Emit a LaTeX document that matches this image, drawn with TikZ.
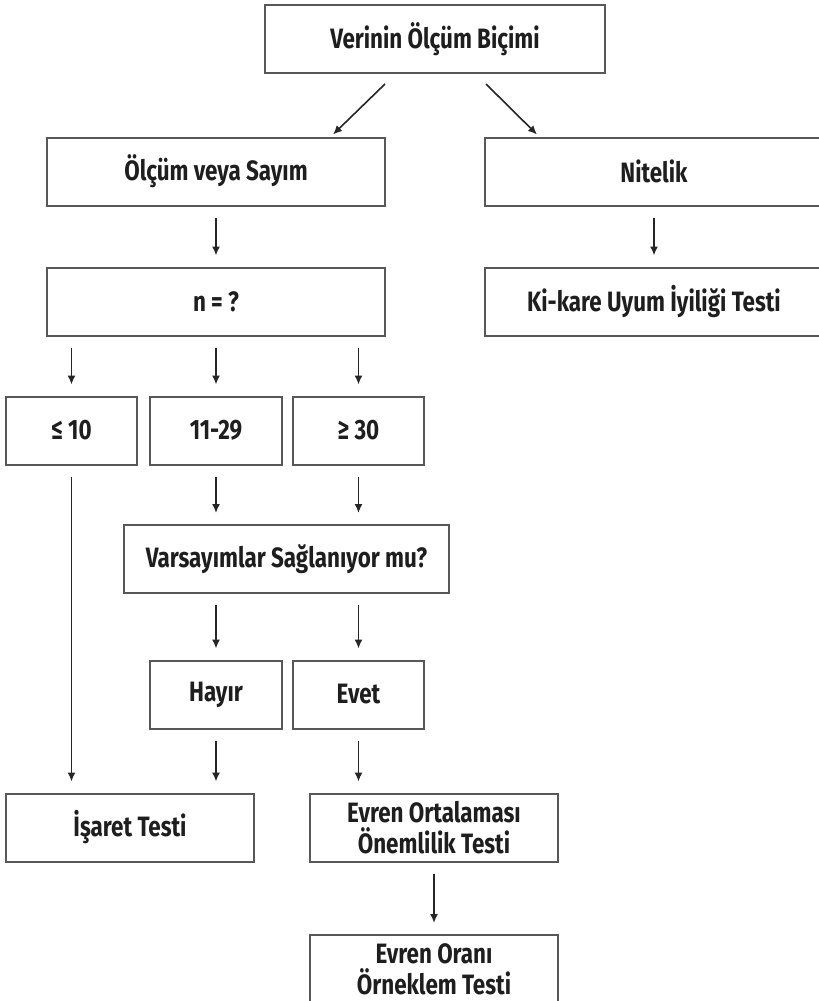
\documentclass[tikz,border=0pt]{standalone}
\usepackage{fontspec}
\setmainfont{Fira Sans}[FakeStretch=0.8]
\usetikzlibrary{arrows.meta}
\definecolor{boxline}{HTML}{585858}
\definecolor{txt}{HTML}{1E1E1E}

\begin{document}
\begin{tikzpicture}[x=0.5pt,y=-0.5pt,
	box/.style={draw=boxline,line width=1pt,inner sep=0pt,minimum height=34pt,
		align=center,text=txt,font=\fontsize{14}{15.5}\selectfont\bfseries},
	arr/.style={-{Latex[length=4.5pt,width=4pt]},line width=0.8pt,black!85,
		shorten <=5.5pt,shorten >=5.5pt}]
	\useasboundingbox (0,0) rectangle (819,1001);
	\node[box,minimum width=170pt] (verinin) at (435,39) {Verinin Ölçüm Biçimi};
	\node[box,minimum width=169pt] (olcum) at (216,171.5) {Ölçüm veya Sayım};
	\node[box,minimum width=169pt] (nitelik) at (654,171.5) {Nitelik};
	\node[box,minimum width=169pt] (n) at (216,301.5) {n = ?};
	\node[box,minimum width=169pt] (kikare) at (654,301.5) {Ki-kare Uyum İyiliği Testi};
	\node[box,minimum width=65.5pt] (le10) at (71.5,430.5) {≤ 10};
	\node[box,minimum width=66pt] (mid) at (216,430.5) {11-29};
	\node[box,minimum width=65.5pt] (ge30) at (358.5,430.5) {≥ 30};
	\node[box,minimum width=162.5pt] (varsay) at (286.5,559) {Varsayımlar Sağlanıyor mu?};
	\node[box,minimum width=66pt] (hayir) at (216,694.5) {Hayır};
	\node[box,minimum width=65.5pt] (evet) at (358.5,694.5) {Evet};
	\node[box,minimum width=124pt] (isaret) at (130,827.5) {İşaret Testi};
	\node[box,minimum width=124pt] (evrenort) at (434,827.5) {Evren Ortalaması\\Önemlilik Testi};
	\node[box,minimum width=124pt] (evrenoran) at (434,969) {Evren Oranı\\Örneklem Testi};
	% top split
	\draw[arr,shorten <=0pt,shorten >=0pt] ([xshift=-25pt,yshift=-5pt]verinin.south) -- ([xshift=58.5pt,yshift=1pt]olcum.north);
	\draw[arr,shorten <=0pt,shorten >=0pt] ([xshift=25.5pt,yshift=-5pt]verinin.south) -- ([xshift=-58.5pt,yshift=1pt]nitelik.north);
	\draw[arr] (olcum) -- (n);
	\draw[arr] (nitelik) -- (kikare);
	% n = ?
	\draw[arr] (n.south -| le10.north) -- (le10.north);
	\draw[arr] (n.south -| mid.north) -- (mid.north);
	\draw[arr] (n.south -| ge30.north) -- (ge30.north);
	\draw[arr] (le10.south) -- (isaret.north -| le10.south);
	\draw[arr] (mid.south) -- (varsay.north -| mid.south);
	\draw[arr] (ge30.south) -- (varsay.north -| ge30.south);
	% varsayimlar
	\draw[arr] (varsay.south -| hayir.north) -- (hayir.north);
	\draw[arr] (varsay.south -| evet.north) -- (evet.north);
	\draw[arr] (hayir.south) -- (isaret.north -| hayir.south);
	\draw[arr] (evet.south) -- (evrenort.north -| evet.south);
	\draw[arr] (evrenort) -- (evrenoran);
\end{tikzpicture}
\end{document}
